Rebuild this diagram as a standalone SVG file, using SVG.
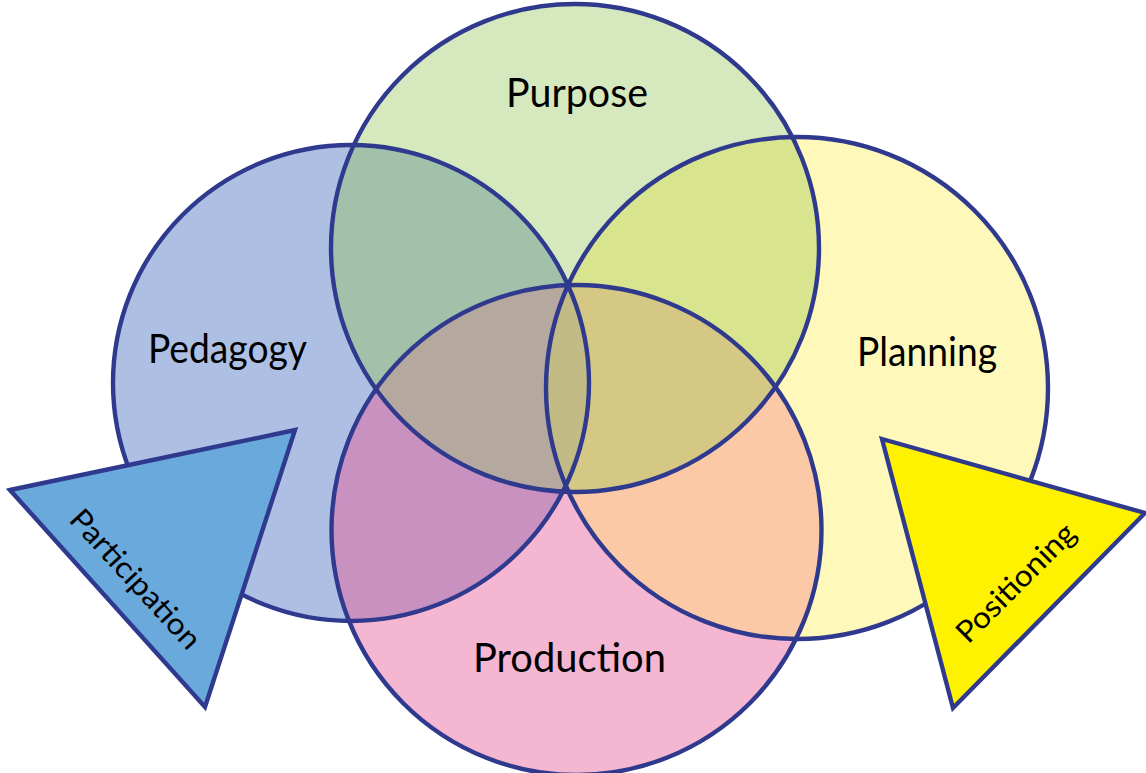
<svg xmlns="http://www.w3.org/2000/svg" width="1146" height="773" viewBox="0 0 1146 773">
  <style>
    .ol { fill: none; stroke: #2f3a8f; stroke-width: 4.4; }
    .tri { stroke: #2f3a8f; stroke-width: 4.4; stroke-linejoin: miter; }
    .lbl { font-family: Lato, "Open Sans", "Liberation Sans", sans-serif; font-size: 40px; fill: #000; text-anchor: middle; }
    .tlbl { font-family: Lato, "Open Sans", "Liberation Sans", sans-serif; font-size: 30px; fill: #000; text-anchor: middle; }
  </style>
  <defs>
    <circle id="gPe" cx="351" cy="383" r="238"/>
    <circle id="gPu" cx="575" cy="248" r="244"/>
    <circle id="gPl" cx="797" cy="388" r="251"/>
    <circle id="gPr" cx="576.5" cy="530" r="245"/>
    <clipPath id="cPe"><use href="#gPe"/></clipPath>
    <clipPath id="cPu"><use href="#gPu"/></clipPath>
    <clipPath id="cPl"><use href="#gPl"/></clipPath>
    <clipPath id="cPr"><use href="#gPr"/></clipPath>
  </defs>
  <rect width="1146" height="773" fill="#ffffff"/>

  <g id="region-fills">
    <use href="#gPe" fill="#adc0e4"/>
    <use href="#gPu" fill="#d5e8be"/>
    <use href="#gPl" fill="#fef8bb"/>
    <use href="#gPr" fill="#f5b6d2"/>
    <g clip-path="url(#cPe)"><use href="#gPu" fill="#a2c1ab"/></g>
    <g clip-path="url(#cPu)"><use href="#gPl" fill="#d8e48e"/></g>
    <g clip-path="url(#cPe)"><use href="#gPr" fill="#c891c0"/></g>
    <g clip-path="url(#cPl)"><use href="#gPr" fill="#fbc9a6"/></g>
    <g clip-path="url(#cPu)"><use href="#gPr" fill="#c6b491"/></g>
    <g clip-path="url(#cPe)"><use href="#gPl" fill="#c2bb85"/></g>
    <g clip-path="url(#cPe)"><g clip-path="url(#cPu)"><use href="#gPr" fill="#b5a89e"/></g></g>
    <g clip-path="url(#cPl)"><g clip-path="url(#cPu)"><use href="#gPr" fill="#d5c884"/></g></g>
    <g clip-path="url(#cPe)"><g clip-path="url(#cPl)"><use href="#gPu" fill="#c2bb85"/></g></g>
    <g clip-path="url(#cPe)"><g clip-path="url(#cPl)"><use href="#gPr" fill="#c2bb85"/></g></g>
  </g>

  <g id="pedagogy">
    <use href="#gPe" class="ol"/>
    <text class="lbl" x="227.5" y="363" textLength="159" lengthAdjust="spacingAndGlyphs">Pedagogy</text>
  </g>
  <g id="purpose">
    <use href="#gPu" class="ol"/>
    <text class="lbl" x="577" y="107" textLength="142" lengthAdjust="spacingAndGlyphs">Purpose</text>
  </g>
  <g id="planning">
    <use href="#gPl" class="ol"/>
    <text class="lbl" x="927" y="366" textLength="140" lengthAdjust="spacingAndGlyphs">Planning</text>
  </g>
  <g id="production">
    <use href="#gPr" class="ol"/>
    <text class="lbl" x="569.5" y="672" textLength="193" lengthAdjust="spacingAndGlyphs">Production</text>
  </g>

  <g id="participation">
    <polygon class="tri" points="10,490 295,430 205,707" fill="#6aa9db"/>
    <text class="tlbl" transform="translate(128,586) rotate(47.5)" textLength="178" lengthAdjust="spacingAndGlyphs">Participation</text>
  </g>
  <g id="positioning">
    <polygon class="tri" points="882,439 1145,513 953,708" fill="#fff200"/>
    <text class="tlbl" transform="translate(1023,590) rotate(-45)" textLength="155" lengthAdjust="spacingAndGlyphs">Positioning</text>
  </g>

  <g id="connectors"></g>
</svg>
